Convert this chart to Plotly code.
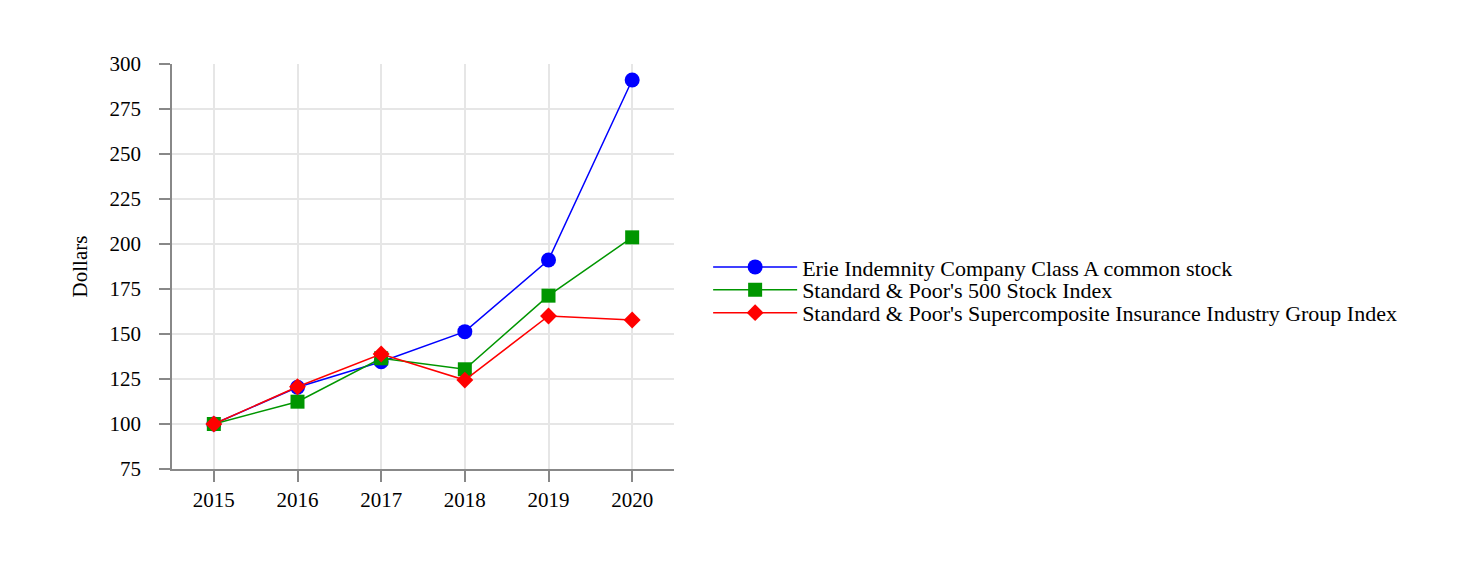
import plotly.graph_objects as go

years = ["2015", "2016", "2017", "2018", "2019", "2020"]
erie = [100, 120.4, 134.6, 151.3, 191.1, 291.1]
sp500 = [100, 112.4, 136.5, 130.4, 171.3, 203.7]
insurance = [100, 120.7, 138.9, 124.4, 160.0, 157.8]
y_ticks = [75, 100, 125, 150, 175, 200, 225, 250, 275, 300]

names = [
    "Erie Indemnity Company Class A common stock",
    "Standard & Poor's 500 Stock Index",
    "Standard & Poor's Supercomposite Insurance Industry Group Index",
]

FONT = 21
LEG_FONT = 22

fig = go.Figure()
fig.add_trace(go.Scatter(x=years, y=erie, name=names[0], mode="lines+markers",
                         legend="legend",
                         line=dict(color="#0000ff", width=1.5),
                         marker=dict(symbol="circle", size=15, color="#0000ff")))
fig.add_trace(go.Scatter(x=years, y=sp500, name=names[1], mode="lines+markers",
                         legend="legend2",
                         line=dict(color="#009600", width=1.5),
                         marker=dict(symbol="square", size=14, color="#009600")))
fig.add_trace(go.Scatter(x=years, y=insurance, name=names[2], mode="lines+markers",
                         legend="legend3",
                         line=dict(color="#ff0000", width=1.5),
                         marker=dict(symbol="diamond", size=13, color="#ff0000")))

axis_common = dict(showline=True, linecolor="#888888", linewidth=1.5,
                   ticks="outside", tickcolor="#888888", ticklen=11, tickwidth=1.5,
                   showgrid=True, gridcolor="#e6e6e6", gridwidth=1.5,
                   zeroline=False, tickfont=dict(size=FONT, color="#000000"))

leg_common = dict(x=1.068, xanchor="left", yanchor="middle",
                  font=dict(size=LEG_FONT), itemwidth=84,
                  bgcolor="rgba(0,0,0,0)")

fig.update_layout(
    width=1480, height=572,
    paper_bgcolor="white", plot_bgcolor="white",
    font=dict(family="Liberation Serif, Times New Roman, serif", size=FONT, color="#000000"),
    margin=dict(l=164, r=814, t=56, b=111),
    xaxis=dict(type="category", range=[-0.5, 5.5], **axis_common),
    yaxis=dict(range=[75, 300], tickvals=y_ticks, ticklabelstandoff=14,
               title=dict(text="Dollars", font=dict(size=FONT), standoff=16),
               **axis_common),
    legend=dict(y=0.4985, **leg_common),
    legend2=dict(y=0.442, **leg_common),
    legend3=dict(y=0.3855, **leg_common),
    showlegend=True,
)

fig.write_html("out.html")
